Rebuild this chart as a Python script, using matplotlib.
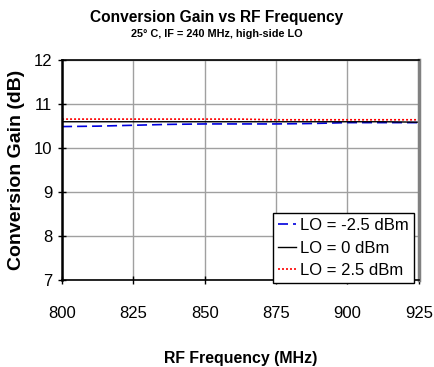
import matplotlib.pyplot as plt

# Data
freq = [800, 812.5, 825, 837.5, 850, 862.5, 875, 887.5, 900, 912.5, 925]
gain_lo_m25 = [10.49, 10.50, 10.52, 10.54, 10.55, 10.55, 10.55, 10.56, 10.58, 10.58, 10.58]
gain_lo_0 = [10.60, 10.60, 10.60, 10.60, 10.60, 10.60, 10.60, 10.60, 10.60, 10.60, 10.59]
gain_lo_p25 = [10.66, 10.66, 10.66, 10.66, 10.66, 10.66, 10.645, 10.645, 10.645, 10.645, 10.645]
labels = ['LO = -2.5 dBm', 'LO = 0 dBm', 'LO = 2.5 dBm']

plt.rcParams['font.family'] = ['Liberation Sans', 'DejaVu Sans']

fig = plt.figure(figsize=(4.34, 3.67), dpi=100)
ax = fig.add_axes([0.143, 0.237, 0.822, 0.599])

ax.plot(freq, gain_lo_m25, color='#0000dd', linestyle=(0, (6, 3)), linewidth=1.2, label=labels[0])
ax.plot(freq, gain_lo_0, color='black', linestyle='-', linewidth=1.0, label=labels[1])
ax.plot(freq, gain_lo_p25, color='red', linestyle=(0, (1.2, 1.2)), linewidth=1.2, label=labels[2])

ax.set_xlim(800, 925)
ax.set_ylim(7, 12)
ax.set_xticks([800, 825, 850, 875, 900, 925])
ax.set_yticks([7, 8, 9, 10, 11, 12])
ax.grid(True, color='#a0a0a0', linewidth=1.0)
ax.set_axisbelow(True)

ax.spines['left'].set_linewidth(1.8)
ax.spines['bottom'].set_linewidth(1.2)
ax.spines['top'].set_linewidth(1.2)
ax.spines['right'].set_color('#808080')
ax.spines['right'].set_linewidth(2.5)

ax.tick_params(axis='both', labelsize=12, direction='inout', length=6, width=1)
ax.tick_params(axis='x', pad=16)
ax.tick_params(axis='y', pad=4)

ax.set_xlabel('RF Frequency (MHz)', fontsize=11.4, fontweight='bold', labelpad=21)
ax.set_ylabel('Conversion Gain (dB)', fontsize=14, fontweight='bold', labelpad=6)

fig.text(0.5, 0.951, 'Conversion Gain vs RF Frequency', ha='center', va='center',
         fontsize=11.2, fontweight='bold')
fig.text(0.5, 0.908, '25° C, IF = 240 MHz, high-side LO', ha='center', va='center',
         fontsize=7.8, fontweight='bold')

leg = ax.legend(loc='lower right', bbox_to_anchor=(0.986, -0.0136), fontsize=12,
                frameon=True, fancybox=False, edgecolor='black', framealpha=1,
                borderpad=0.3, labelspacing=0.45, handlelength=1.1,
                handletextpad=0.25, borderaxespad=0)
leg.get_frame().set_linewidth(1.0)

fig.savefig('out.png', dpi=100)
